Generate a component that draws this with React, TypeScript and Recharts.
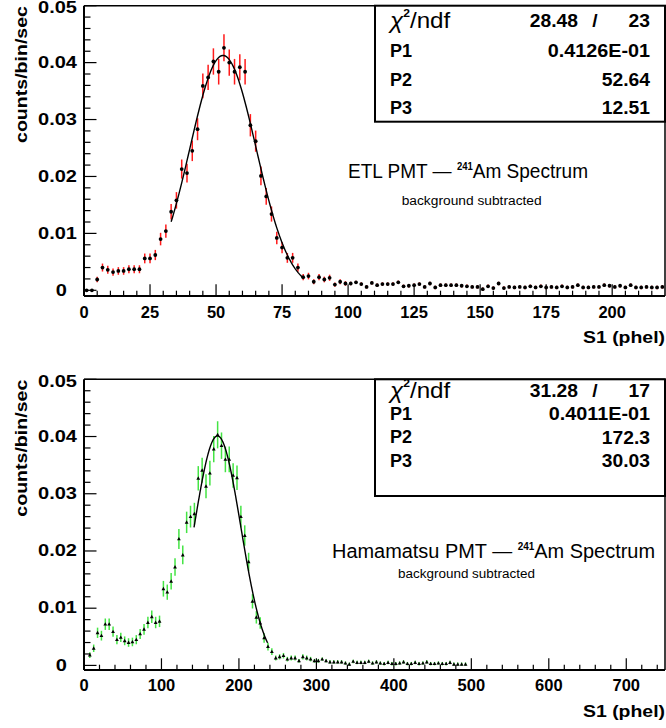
import React from 'react';
import { ComposedChart, Scatter, XAxis, YAxis, ErrorBar, ReferenceLine } from 'recharts';

// ---------- ETL PMT (top) ----------
const etlS1 = [
  1, 3, 5, 7, 9, 11, 13, 15, 17, 19,
  21, 23, 25, 27, 29, 31, 33, 35, 37, 39,
  41, 43, 45, 47, 49, 51, 53, 55, 57, 59,
  61, 63, 65, 67, 69, 71, 73, 75, 77, 79,
  81, 83, 85, 87, 89, 91, 93, 95, 97, 99,
  101, 103, 105, 107, 109, 111, 113, 115, 117, 119,
  121, 123, 125, 127, 129, 131, 133, 135, 137, 139,
  141, 143, 145, 147, 149, 151, 153, 155, 157, 159,
  161, 163, 165, 167, 169, 171, 173, 175, 177, 179,
  181, 183, 185, 187, 189, 191, 193, 195, 197, 199,
  201, 203, 205, 207, 209, 211, 213, 215, 217, 219,
];
const etlRate = [
  0.0000, 0.0000, 0.0019, 0.0040, 0.0036, 0.0032, 0.0034, 0.0034, 0.0037, 0.0037,
  0.0037, 0.0056, 0.0056, 0.0062, 0.0090, 0.0104, 0.0138, 0.0158, 0.0213, 0.0206,
  0.0245, 0.0283, 0.0359, 0.0374, 0.0402, 0.0384, 0.0426, 0.0400, 0.0384, 0.0392,
  0.0384, 0.0290, 0.0262, 0.0201, 0.0165, 0.0134, 0.0092, 0.0075, 0.0057, 0.0057,
  0.0040, 0.0023, 0.0025, 0.0015, 0.0023, 0.0019, 0.0022, 0.0010, 0.0015, 0.0012,
  0.0012, 0.0014, 0.0011, 0.0006, 0.0013, 0.0009, 0.0011, 0.0011, 0.0011, 0.0014,
  0.0007, 0.0008, 0.0009, 0.0011, 0.0006, 0.0012, 0.0005, 0.0009, 0.0009, 0.0009,
  0.0009, 0.0008, 0.0007, 0.0006, 0.0006, 0.0002, 0.0007, 0.0004, 0.0012, 0.0004,
  0.0006, 0.0005, 0.0006, 0.0005, 0.0007, 0.0005, 0.0007, 0.0005, 0.0006, 0.0005,
  0.0007, 0.0005, 0.0006, 0.0009, 0.0005, 0.0005, 0.0006, 0.0006, 0.0009, 0.0008,
  0.0006, 0.0008, 0.0005, 0.0009, 0.0005, 0.0005, 0.0006, 0.0005, 0.0005, 0.0006,
];
const etlErr = [
  0.0002, 0.0002, 0.0005, 0.0007, 0.0007, 0.00065, 0.00067, 0.00067, 0.0007, 0.0007,
  0.0007, 0.00086, 0.00086, 0.0009, 0.0011, 0.00117, 0.00135, 0.00145, 0.00168, 0.00165,
  0.0018, 0.00193, 0.00218, 0.00222, 0.00231, 0.00225, 0.00237, 0.0023, 0.00225, 0.00228,
  0.00225, 0.00196, 0.00186, 0.00163, 0.00148, 0.00133, 0.0011, 0.001, 0.00087, 0.00087,
  0.00073, 0.00055, 0.00058, 0.00045, 0.00055, 0.0005, 0.00054, 0.00036, 0.00045, 0.0004,
  0.0003, 0.0003, 0.0003, 0.0003, 0.0003, 0.0003, 0.0003, 0.0003, 0.0003, 0.0003,
  0.0003, 0.0003, 0.0003, 0.0003, 0.0003, 0.0003, 0.0003, 0.0003, 0.0003, 0.0003,
  0.0003, 0.0003, 0.0003, 0.0003, 0.0003, 0.0003, 0.0003, 0.0003, 0.0003, 0.0003,
  0.0003, 0.0003, 0.0003, 0.0003, 0.0003, 0.0003, 0.0003, 0.0003, 0.0003, 0.0003,
  0.0003, 0.0003, 0.0003, 0.0003, 0.0003, 0.0003, 0.0003, 0.0003, 0.0003, 0.0003,
  0.0003, 0.0003, 0.0003, 0.0003, 0.0003, 0.0003, 0.0003, 0.0003, 0.0003, 0.0003,
];
const etlFit = { p1: 0.04126, p2: 52.64, p3: 12.51, from: 33, to: 83 };
const etlXTicks = [
  0, 5, 10, 15, 20, 25, 30, 35, 40, 45, 50, 55, 60, 65, 70, 75, 80, 85, 90, 95,
  100, 105, 110, 115, 120, 125, 130, 135, 140, 145, 150, 155, 160, 165, 170, 175,
  180, 185, 190, 195, 200, 205, 210, 215,
];

// ---------- Hamamatsu PMT (bottom) ----------
const hamS1 = [
  7.5, 12.5, 17.5, 22.5, 27.5, 32.5, 37.5, 42.5, 47.5, 52.5,
  57.5, 62.5, 67.5, 72.5, 77.5, 82.5, 87.5, 92.5, 97.5, 102.5,
  107.5, 112.5, 117.5, 122.5, 127.5, 132.5, 137.5, 142.5, 147.5, 152.5,
  157.5, 162.5, 167.5, 172.5, 177.5, 182.5, 187.5, 192.5, 197.5, 202.5,
  207.5, 212.5, 217.5, 222.5, 227.5, 232.5, 237.5, 242.5, 247.5, 252.5,
  257.5, 262.5, 267.5, 272.5, 277.5, 282.5, 287.5, 292.5, 297.5, 302.5,
  307.5, 312.5, 317.5, 322.5, 327.5, 332.5, 337.5, 342.5, 347.5, 352.5,
  357.5, 362.5, 367.5, 372.5, 377.5, 382.5, 387.5, 392.5, 397.5, 402.5,
  407.5, 412.5, 417.5, 422.5, 427.5, 432.5, 437.5, 442.5, 447.5, 452.5,
  457.5, 462.5, 467.5, 472.5, 477.5, 482.5, 487.5, 492.5,
];
const hamRate = [
  0.0018, 0.0030, 0.0057, 0.0052, 0.0072, 0.0072, 0.0059, 0.0045, 0.0049, 0.0043,
  0.0040, 0.0041, 0.0045, 0.0055, 0.0063, 0.0075, 0.0085, 0.0075, 0.0077, 0.0134,
  0.0128, 0.0147, 0.0172, 0.0221, 0.0193, 0.0250, 0.0260, 0.0265, 0.0327, 0.0341,
  0.0313, 0.0336, 0.0378, 0.0403, 0.0384, 0.0360, 0.0360, 0.0332, 0.0328, 0.0260,
  0.0227, 0.0181, 0.0112, 0.0084, 0.0074, 0.0048, 0.0033, 0.0024, 0.0013, 0.0015,
  0.0017, 0.0011, 0.0013, 0.0013, 0.0008, 0.0015, 0.0013, 0.0011, 0.0008, 0.0008,
  0.0011, 0.0008, 0.0006, 0.0006, 0.0006, 0.0006, 0.0004, 0.0002, 0.0007, 0.0005,
  0.0005, 0.0005, 0.0007, 0.0004, 0.0006, 0.0004, 0.0003, 0.0005, 0.0003, 0.0003,
  0.0004, 0.0006, 0.0003, 0.0003, 0.0005, 0.0003, 0.0004, 0.0006, 0.0003, 0.0003,
  0.0004, 0.0003, 0.0003, 0.0005, 0.0002, 0.0002, 0.0002, 0.0002,
];
const hamErr = [
  0.0005, 0.00065, 0.0009, 0.00085, 0.001, 0.001, 0.0009, 0.0008, 0.0008, 0.00077,
  0.00075, 0.00075, 0.0008, 0.00088, 0.00094, 0.001, 0.0011, 0.001, 0.001, 0.00137,
  0.00133, 0.00143, 0.00155, 0.00175, 0.00164, 0.00187, 0.0019, 0.00192, 0.00213, 0.00218,
  0.00209, 0.00216, 0.0023, 0.00237, 0.00231, 0.00224, 0.00224, 0.00215, 0.00214, 0.0019,
  0.00178, 0.00159, 0.00125, 0.00108, 0.00101, 0.00082, 0.00068, 0.00058, 0.00043, 0.00045,
  0.00048, 0.0004, 0.00043, 0.00043, 0.00033, 0.00045, 0.00043, 0.0004, 0.00033, 0.00033,
  0.0003, 0.0003, 0.0003, 0.0003, 0.0003, 0.0003, 0.0003, 0.0003, 0.0003, 0.0003,
  0.0003, 0.0003, 0.0003, 0.0003, 0.0003, 0.0003, 0.0003, 0.0003, 0.0003, 0.0003,
  0.0003, 0.0003, 0.0003, 0.0003, 0.0003, 0.0003, 0.0003, 0.0003, 0.0003, 0.0003,
  0.0003, 0.0003, 0.0003, 0.0003, 0.0003, 0.0003, 0.0003, 0.0003,
];
const hamFit = { p1: 0.04011, p2: 172.3, p3: 30.03, from: 142, to: 237 };
const hamXTicks = [
  0, 20, 40, 60, 80, 100, 120, 140, 160, 180, 200, 220, 240, 260, 280, 300, 320, 340,
  360, 380, 400, 420, 440, 460, 480, 500, 520, 540, 560, 580, 600, 620, 640, 660, 680,
  700, 720, 740,
];

const yTicks = [
  0, 0.002, 0.004, 0.006, 0.008, 0.01, 0.012, 0.014, 0.016, 0.018, 0.02, 0.022, 0.024,
  0.026, 0.028, 0.03, 0.032, 0.034, 0.036, 0.038, 0.04, 0.042, 0.044, 0.046, 0.048, 0.05,
];

// ---------- helpers ----------
const SANS = "'Liberation Sans', Arial, Helvetica, sans-serif";

const toPoints = (xs: number[], ys: number[], es: number[]) =>
  xs.map((x, i) => ({ x, y: ys[i], e: es[i] }));

// fit model curve drawn from the printed fit parameters P1, P2, P3
const fitCurve = (f: { p1: number; p2: number; p3: number; from: number; to: number }) => {
  const pts: { x: number; y: number }[] = [];
  for (let x = f.from; x <= f.to + 1e-9; x += 0.5) {
    pts.push({ x, y: f.p1 * Math.exp(-0.5 * Math.pow((x - f.p2) / f.p3, 2)) });
  }
  return pts;
};

const isMajor = (v: number, step: number) => Math.abs(v / step - Math.round(v / step)) < 1e-6;

const makeYTick = (topValue: number) => (props: any) => {
  const { x, y, payload } = props;
  const v = payload.value as number;
  const major = isMajor(v, 0.01);
  const label = v === 0 ? '0' : v.toFixed(2);
  const lx = v === 0 ? x - 17 : x - 7;
  const ly = v === topValue ? y + 2 : y;
  return (
    <g>
      <line x1={x} x2={x + (major ? 12.5 : 6.5)} y1={y} y2={y} stroke="#000" strokeWidth={1.2} />
      {major && (
        <text
          transform={`translate(${lx},${ly}) scale(1.25,1)`}
          textAnchor="end"
          dominantBaseline="central"
          fontFamily={SANS}
          fontWeight="bold"
          fontSize={16}
          fill="#000"
        >
          {label}
        </text>
      )}
    </g>
  );
};

const makeXTick = (step: number, labelOffset: number) => (props: any) => {
  const { x, y, payload } = props;
  const v = payload.value as number;
  const major = isMajor(v, step);
  return (
    <g>
      <line x1={x} x2={x} y1={y} y2={y - (major ? 11.7 : 5.3)} stroke="#000" strokeWidth={1.2} />
      {major && (
        <text
          transform={`translate(${x},${y + labelOffset}) scale(1.03,1)`}
          textAnchor="middle"
          dominantBaseline="central"
          fontFamily={SANS}
          fontWeight="bold"
          fontSize={16}
          fill="#000"
        >
          {String(v)}
        </text>
      )}
    </g>
  );
};

const DotShape = (p: any) => <circle cx={p.cx} cy={p.cy} r={1.9} fill="#000" />;
const TriShape = (p: any) => (
  <polygon
    points={`${p.cx - 1.9},${p.cy + 1.4} ${p.cx + 1.9},${p.cy + 1.4} ${p.cx},${p.cy - 2.0}`}
    fill="#000"
  />
);
const NoShape = () => null;

const axisLine = { stroke: '#000', strokeWidth: 2 };

function SpectrumPanel(props: {
  points: { x: number; y: number; e: number }[];
  fit: { x: number; y: number }[];
  xMax: number;
  xTicks: number[];
  xStep: number;
  yMin: number;
  top: number;
  xAxisHeight: number;
  labelOffset: number;
  errColor: string;
  shape: any;
}) {
  return (
    <ComposedChart
      width={666}
      height={364}
      margin={{ top: props.top, right: 1, bottom: 0, left: 0 }}
    >
      <XAxis
        type="number"
        dataKey="x"
        domain={[0, props.xMax]}
        allowDataOverflow
        ticks={props.xTicks}
        interval={0}
        tickSize={0}
        tickMargin={0}
        tickLine={false}
        height={props.xAxisHeight}
        axisLine={axisLine}
        tick={makeXTick(props.xStep, props.labelOffset)}
      />
      <YAxis
        type="number"
        dataKey="y"
        domain={[props.yMin, 0.05]}
        allowDataOverflow
        ticks={yTicks}
        interval={0}
        tickSize={0}
        tickMargin={0}
        tickLine={false}
        width={84}
        axisLine={axisLine}
        tick={makeYTick(0.05)}
      />
      <ReferenceLine y={0.05} stroke="#000" strokeWidth={1.5} />
      <ReferenceLine x={props.xMax} stroke="#000" strokeWidth={1.5} />
      <Scatter
        data={props.points}
        shape={props.shape}
        isAnimationActive={false}
      >
        <ErrorBar
          dataKey="e"
          direction="y"
          width={0}
          stroke={props.errColor}
          strokeWidth={1.5}
          isAnimationActive={false}
        />
      </Scatter>
      <Scatter
        data={props.fit}
        shape={NoShape}
        line={{ stroke: '#000', strokeWidth: 1.4 }}
        isAnimationActive={false}
      />
    </ComposedChart>
  );
}

const txt = { fontFamily: SANS, fill: '#000' } as const;

function StatsBox(props: {
  y: number;
  h: number;
  rowY: number[];
  chi: string;
  ndf: string;
  p1: string;
  p2: string;
  p3: string;
}) {
  const T = (x: number, y: number, anchor: string, s: string, sx: number, bold = true) => (
    <text
      transform={`translate(${x},${y}) scale(${sx},1)`}
      textAnchor={anchor as any}
      dominantBaseline="central"
      fontWeight={bold ? 'bold' : 'normal'}
      fontSize={18}
      {...txt}
    >
      {s}
    </text>
  );
  const [r0, r1, r2, r3] = props.rowY;
  return (
    <g>
      <rect x={375} y={props.y} width={290} height={props.h} fill="#fff" stroke="#000" strokeWidth={2} />
      <text
        transform={`translate(390,${r0}) scale(1.1,1)`}
        dominantBaseline="central"
        fontSize={22}
        {...txt}
      >
        <tspan fontStyle="italic">χ</tspan>
        <tspan fontSize={11} fontWeight="bold" dy={-8}>2</tspan>
        <tspan dy={8}>/ndf</tspan>
      </text>
      {T(578, r0, 'end', props.chi, 1.07)}
      {T(595, r0, 'middle', '/', 1.07)}
      {T(650, r0, 'end', props.ndf, 1.07)}
      {T(390, r1, 'start', 'P1', 1.0)}
      {T(650, r1, 'end', props.p1, 1.1)}
      {T(390, r2, 'start', 'P2', 1.0)}
      {T(650, r2, 'end', props.p2, 1.07)}
      {T(390, r3, 'start', 'P3', 1.0)}
      {T(650, r3, 'end', props.p3, 1.07)}
    </g>
  );
}

function Title(props: { x: number; y: number; len: number; name: string }) {
  return (
    <text x={props.x} y={props.y} fontSize={20} textLength={props.len} lengthAdjust="spacingAndGlyphs" {...txt}>
      {props.name} PMT —{' '}
      <tspan fontSize={10} fontWeight="bold" dy={-8}>241</tspan>
      <tspan dy={8}>Am Spectrum</tspan>
    </text>
  );
}

export default function App() {
  const etlPoints = toPoints(etlS1, etlRate, etlErr);
  const hamPoints = toPoints(hamS1, hamRate, hamErr);
  return (
    <div style={{ position: 'absolute', left: 0, top: 0, width: 666, height: 728, background: '#fff' }}>
      <div style={{ position: 'absolute', left: 0, top: 0 }}>
        <SpectrumPanel
          points={etlPoints}
          fit={fitCurve(etlFit)}
          xMax={220}
          xTicks={etlXTicks}
          xStep={25}
          yMin={-0.001}
          top={5.7}
          xAxisHeight={68}
          labelOffset={15.7}
          errColor="#ff1a1a"
          shape={DotShape}
        />
      </div>
      <div style={{ position: 'absolute', left: 0, top: 364 }}>
        <SpectrumPanel
          points={hamPoints}
          fit={fitCurve(hamFit)}
          xMax={750}
          xTicks={hamXTicks}
          xStep={100}
          yMin={-0.0008}
          top={15.3}
          xAxisHeight={58}
          labelOffset={15}
          errColor="#44e444"
          shape={TriShape}
        />
      </div>
      <svg
        width={666}
        height={728}
        style={{ position: 'absolute', left: 0, top: 0, pointerEvents: 'none' }}
      >
        {/* axis titles */}
        <text transform="translate(26.7,143) rotate(-90)" fontSize={17} fontWeight="bold" textLength={137} lengthAdjust="spacingAndGlyphs" {...txt}>
          counts/bin/sec
        </text>
        <text transform="translate(26.7,516.7) rotate(-90)" fontSize={17} fontWeight="bold" textLength={137} lengthAdjust="spacingAndGlyphs" {...txt}>
          counts/bin/sec
        </text>
        <text x={583} y={343} fontSize={17} fontWeight="bold" textLength={82} lengthAdjust="spacingAndGlyphs" {...txt}>
          S1 (phel)
        </text>
        <text x={583} y={716.5} fontSize={17} fontWeight="bold" textLength={82} lengthAdjust="spacingAndGlyphs" {...txt}>
          S1 (phel)
        </text>

        {/* fit statistics */}
        <StatsBox y={5.7} h={116} rowY={[20.7, 51.2, 79.8, 108]} chi="28.48" ndf="23" p1="0.4126E-01" p2="52.64" p3="12.51" />
        <StatsBox y={379.3} h={116.7} rowY={[390.7, 414.3, 437.3, 460.7]} chi="31.28" ndf="17" p1="0.4011E-01" p2="172.3" p3="30.03" />

        {/* titles */}
        <Title x={348} y={178.3} len={240} name="ETL" />
        <text x={401.7} y={204.5} fontSize={12.5} textLength={140} lengthAdjust="spacingAndGlyphs" {...txt}>
          background subtracted
        </text>
        <Title x={332} y={558.3} len={323} name="Hamamatsu" />
        <text x={398} y={578} fontSize={12.5} textLength={137} lengthAdjust="spacingAndGlyphs" {...txt}>
          background subtracted
        </text>
      </svg>
    </div>
  );
}
